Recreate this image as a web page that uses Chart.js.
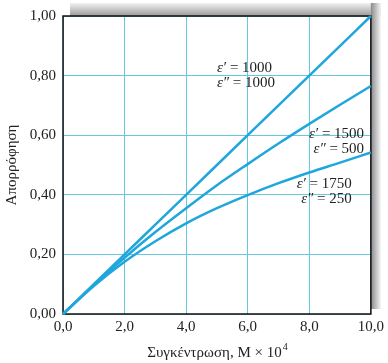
<!DOCTYPE html>
<html>
<head>
<meta charset="utf-8">
<script src="https://cdn.jsdelivr.net/npm/chart.js@4.4.1/dist/chart.umd.min.js"></script>
<style>
  html,body{margin:0;padding:0;background:#fff}
  #wrap{width:388px;height:363px}
</style>
</head>
<body>
<div id="wrap"><canvas id="c" width="388" height="363"></canvas></div>
<script>
// concentration, M x 10^4
const concentration = [0, 1, 2, 3, 4, 5, 6, 7, 8, 9, 10];
// absorbance for the three pairs of molar absorptivities
const absEqual   = [0, 0.100, 0.200, 0.300, 0.400, 0.500, 0.600, 0.700, 0.800, 0.900, 1.000]; // ε'=1000, ε''=1000
const abs1500    = [0, 0.097, 0.189, 0.275, 0.355, 0.432, 0.503, 0.572, 0.638, 0.702, 0.765]; // ε'=1500, ε''=500
const abs1750    = [0, 0.094, 0.175, 0.244, 0.304, 0.355, 0.399, 0.439, 0.475, 0.508, 0.542]; // ε'=1750, ε''=250

const xTickValues = [0, 2, 4, 6, 8, 10];
const xTickLabels = ['0,0', '2,0', '4,0', '6,0', '8,0', '10,0'];
const yTickValues = [0, 0.2, 0.4, 0.6, 0.8, 1.0];
const yTickLabels = ['0,00', '0,20', '0,40', '0,60', '0,80', '1,00'];

const curveLabels = [
  { eps1: '1000', eps2: '1000', x: 5.0, y: 0.825, align: 'left' },
  { eps1: '1500', eps2: '500',  x: 9.78, y: 0.605, align: 'right' },
  { eps1: '1750', eps2: '250',  x: 9.38, y: 0.437, align: 'right' }
];

const LINE = '#1fa6dc', GRID = '#66c8de', SERIF = '"Liberation Serif", "DejaVu Serif", serif';
const pts = ys => concentration.map((x, i) => ({ x, y: ys[i] }));
const lbl = (vals, labels) => v => { const i = vals.findIndex(t => Math.abs(t - v) < 1e-6); return i < 0 ? '' : labels[i]; };

const decor = {
  id: 'decor',
  beforeDraw(chart) {
    const { ctx, chartArea: a } = chart;
    ctx.save();
    // drop shadow on top and right of the plot frame
    let g = ctx.createLinearGradient(0, 3, 0, a.top);
    g.addColorStop(0, '#f2f2f2'); g.addColorStop(1, '#9a9a9a');
    ctx.fillStyle = g; ctx.fillRect(a.left + 7, 3, a.right - a.left + 3, a.top - 3);
    g = ctx.createLinearGradient(a.right, 0, a.right + 10, 0);
    g.addColorStop(0, '#8a8a8a'); g.addColorStop(1, '#f4f4f4');
    ctx.fillStyle = g; ctx.fillRect(a.right, 3, 10, a.bottom - 8);
    ctx.fillStyle = '#fff'; ctx.fillRect(a.left, a.top, a.right - a.left, a.bottom - a.top);
    ctx.restore();
  },
  beforeDatasetsDraw(chart) {
    const { ctx, chartArea: a } = chart;
    ctx.save(); ctx.strokeStyle = '#111'; ctx.lineWidth = 1.5;
    ctx.strokeRect(a.left, a.top, a.right - a.left, a.bottom - a.top);
    ctx.restore();
  },
  afterDraw(chart) {
    const { ctx, chartArea: a, scales: { x, y } } = chart;
    ctx.save(); ctx.fillStyle = '#222'; ctx.textBaseline = 'middle';
    // axis titles
    ctx.font = '15px ' + SERIF;
    ctx.save(); ctx.translate(12, (a.top + a.bottom) / 2); ctx.rotate(-Math.PI / 2);
    ctx.textAlign = 'center'; ctx.fillText('Απορρόφηση', 0, 0); ctx.restore();
    const main = 'Συγκέντρωση, M × 10', sup = '4';
    const w1 = ctx.measureText(main).width;
    ctx.font = '10px ' + SERIF; const w2 = ctx.measureText(sup).width;
    let sx = (a.left + a.right) / 2 - (w1 + w2) / 2;
    ctx.textAlign = 'left'; ctx.font = '15px ' + SERIF; ctx.fillText(main, sx, 353);
    ctx.font = '10px ' + SERIF; ctx.fillText(sup, sx + w1 + 1, 347);
    // curve annotations
    curveLabels.forEach(c => {
      const px = x.getPixelForValue(c.x), py = y.getPixelForValue(c.y);
      [['ε′', c.eps1, 0], ['ε″', c.eps2, 15]].forEach(([e, v, dy]) => {
        ctx.font = 'italic 15px ' + SERIF; const we = ctx.measureText(e).width;
        ctx.font = '15px ' + SERIF; const rest = ' = ' + v; const wr = ctx.measureText(rest).width;
        const x0 = c.align === 'left' ? px : px - we - wr;
        ctx.font = 'italic 15px ' + SERIF; ctx.fillText(e, x0, py + dy);
        ctx.font = '15px ' + SERIF; ctx.fillText(rest, x0 + we, py + dy);
      });
    });
    ctx.restore();
  }
};

const ds = ys => ({ data: pts(ys), borderColor: LINE, borderWidth: 2.5, pointRadius: 0, fill: false,
  cubicInterpolationMode: 'monotone', clip: 4 });

new Chart(document.getElementById('c'), {
  type: 'line',
  data: { datasets: [ds(absEqual), ds(abs1500), ds(abs1750)] },
  options: {
    responsive: false, animation: false, devicePixelRatio: 1,
    layout: { padding: { top: 13, right: 16, left: 0, bottom: 0 } },
    plugins: { legend: { display: false }, tooltip: { enabled: false } },
    scales: {
      x: {
        type: 'linear', min: 0, max: 10,
        afterBuildTicks: s => { s.ticks = xTickValues.map(v => ({ value: v })); },
        afterFit: s => { s.height = 49; },
        grid: { color: GRID, lineWidth: 1, drawTicks: false },
        border: { display: false },
        ticks: { padding: 4, color: '#222', font: { family: SERIF, size: 15 }, callback: lbl(xTickValues, xTickLabels), maxRotation: 0 }
      },
      y: {
        type: 'linear', min: 0, max: 1,
        afterBuildTicks: s => { s.ticks = yTickValues.map(v => ({ value: v })); },
        afterFit: s => { s.width = 63; },
        grid: { color: GRID, lineWidth: 1, drawTicks: false },
        border: { display: false },
        ticks: { padding: 7, color: '#222', font: { family: SERIF, size: 15 }, callback: lbl(yTickValues, yTickLabels) }
      }
    }
  },
  plugins: [decor]
});
</script>
</body>
</html>
